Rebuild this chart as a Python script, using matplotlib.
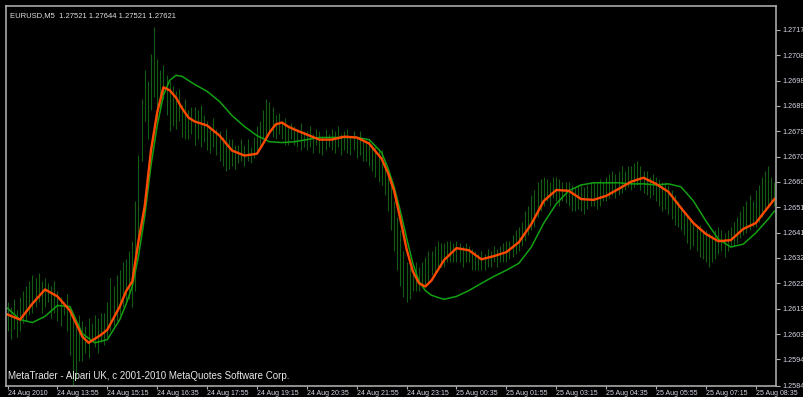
import matplotlib.pyplot as plt
import numpy as np

# M5 bars, EURUSD 24 Aug 2010 12:35 .. 25 Aug 09:05
bar_high = [
    1.2615, 1.2613, 1.2616, 1.2612, 1.2617, 1.2619, 1.2621, 1.2623,
    1.2625, 1.2624, 1.2626, 1.2623, 1.2624, 1.2622, 1.2621, 1.2623,
    1.2619, 1.2617, 1.2615, 1.2618, 1.2613, 1.2611, 1.2608, 1.2610,
    1.2608, 1.2606, 1.2609, 1.2607, 1.2610, 1.2609, 1.2611, 1.2611,
    1.2615, 1.2624, 1.2621, 1.2625, 1.2627, 1.2630, 1.2631, 1.2634,
    1.2638, 1.2653, 1.2670, 1.2691, 1.2702, 1.2698, 1.2708, 1.2718,
    1.2706, 1.2702, 1.2704, 1.2700, 1.2698, 1.2696, 1.2694, 1.2695,
    1.2689, 1.2691, 1.2687, 1.2688, 1.2688, 1.2687, 1.2689, 1.2685,
    1.2683, 1.2681, 1.2684, 1.2680, 1.2679, 1.2677, 1.2680, 1.2676,
    1.2676, 1.2674, 1.2674, 1.2676, 1.2674, 1.2676, 1.2673, 1.2677,
    1.2681, 1.2683, 1.2687, 1.2691, 1.2690, 1.2688, 1.2685, 1.2686,
    1.2683, 1.2684, 1.2681, 1.2682, 1.2681, 1.2680, 1.2682, 1.2679,
    1.2679, 1.2681, 1.2678, 1.2680, 1.2679, 1.2677, 1.2680, 1.2678,
    1.2680, 1.2679, 1.2681, 1.2678, 1.2679, 1.2680, 1.2677, 1.2679,
    1.2677, 1.2679, 1.2676, 1.2676, 1.2676, 1.2674, 1.2674, 1.2672,
    1.2672, 1.2668, 1.2664, 1.2660, 1.2653, 1.2647, 1.2642, 1.2634,
    1.2630, 1.2628, 1.2627, 1.2630, 1.2628, 1.2630, 1.2632, 1.2634,
    1.2634, 1.2636, 1.2638, 1.2637, 1.2637, 1.2638, 1.2638, 1.2637,
    1.2638, 1.2637, 1.2636, 1.2637, 1.2636, 1.2635, 1.2634, 1.2633,
    1.2634, 1.2633, 1.2635, 1.2634, 1.2636, 1.2635, 1.2636, 1.2637,
    1.2638, 1.2638, 1.2640, 1.2642, 1.2643, 1.2645, 1.2649, 1.2651,
    1.2655, 1.2657, 1.2660, 1.2661, 1.2662, 1.2661, 1.2660, 1.2662,
    1.2662, 1.2661, 1.2660, 1.2660, 1.2660, 1.2659, 1.2658, 1.2659,
    1.2659, 1.2658, 1.2659, 1.2660, 1.2660, 1.2660, 1.2661, 1.2660,
    1.2662, 1.2663, 1.2664, 1.2663, 1.2664, 1.2666, 1.2664, 1.2666,
    1.2666, 1.2667, 1.2668, 1.2666, 1.2664, 1.2664, 1.2662, 1.2663,
    1.2662, 1.2661, 1.2660, 1.2660, 1.2659, 1.2657, 1.2655, 1.2653,
    1.2651, 1.2649, 1.2648, 1.2646, 1.2645, 1.2643, 1.2644, 1.2642,
    1.2642, 1.2641, 1.2640, 1.2642, 1.2643, 1.2642, 1.2641, 1.2642,
    1.2643, 1.2645, 1.2647, 1.2649, 1.2651, 1.2653, 1.2655, 1.2653,
    1.2657, 1.2659, 1.2662, 1.2664, 1.2666, 1.2662, 1.2660,
]
bar_low = [
    1.2604, 1.2601, 1.2605, 1.2602, 1.2604, 1.2607, 1.2608, 1.2610,
    1.2611, 1.2613, 1.2615, 1.2611, 1.2613, 1.2615, 1.2609, 1.2611,
    1.2608, 1.2606, 1.2610, 1.2604, 1.2595, 1.2583, 1.2586, 1.2593,
    1.2593, 1.2596, 1.2594, 1.2600, 1.2598, 1.2596, 1.2600, 1.2599,
    1.2602, 1.2604, 1.2606, 1.2608, 1.2610, 1.2613, 1.2615, 1.2616,
    1.2613, 1.2619, 1.2638, 1.2668, 1.2683, 1.2676, 1.2687, 1.2692,
    1.2683, 1.2687, 1.2691, 1.2685, 1.2679, 1.2681, 1.2680, 1.2683,
    1.2677, 1.2676, 1.2676, 1.2678, 1.2674, 1.2676, 1.2673, 1.2675,
    1.2672, 1.2671, 1.2673, 1.2670, 1.2668, 1.2666, 1.2664, 1.2665,
    1.2666, 1.2665, 1.2667, 1.2668, 1.2666, 1.2668, 1.2667, 1.2669,
    1.2672, 1.2674, 1.2676, 1.2677, 1.2679, 1.2677, 1.2676, 1.2678,
    1.2676, 1.2674, 1.2674, 1.2676, 1.2674, 1.2673, 1.2672, 1.2673,
    1.2672, 1.2673, 1.2671, 1.2674, 1.2671, 1.2670, 1.2672, 1.2673,
    1.2672, 1.2671, 1.2673, 1.2670, 1.2672, 1.2671, 1.2670, 1.2672,
    1.2669, 1.2670, 1.2668, 1.2668, 1.2666, 1.2664, 1.2662, 1.2660,
    1.2659, 1.2655, 1.2649, 1.2642, 1.2634, 1.2627, 1.2621, 1.2617,
    1.2615, 1.2616, 1.2619, 1.2619, 1.2619, 1.2621, 1.2621, 1.2623,
    1.2625, 1.2626, 1.2627, 1.2628, 1.2628, 1.2630, 1.2630, 1.2630,
    1.2630, 1.2630, 1.2628, 1.2630, 1.2630, 1.2627, 1.2627, 1.2627,
    1.2627, 1.2627, 1.2628, 1.2628, 1.2630, 1.2628, 1.2630, 1.2630,
    1.2630, 1.2631, 1.2632, 1.2633, 1.2634, 1.2636, 1.2638, 1.2640,
    1.2642, 1.2643, 1.2647, 1.2649, 1.2651, 1.2653, 1.2651, 1.2654,
    1.2653, 1.2651, 1.2653, 1.2652, 1.2651, 1.2649, 1.2649, 1.2650,
    1.2649, 1.2648, 1.2650, 1.2651, 1.2651, 1.2650, 1.2651, 1.2653,
    1.2653, 1.2654, 1.2655, 1.2654, 1.2655, 1.2656, 1.2657, 1.2658,
    1.2657, 1.2658, 1.2659, 1.2657, 1.2656, 1.2655, 1.2654, 1.2655,
    1.2653, 1.2651, 1.2649, 1.2650, 1.2648, 1.2646, 1.2644, 1.2643,
    1.2642, 1.2640, 1.2637, 1.2635, 1.2636, 1.2634, 1.2632, 1.2631,
    1.2630, 1.2628, 1.2630, 1.2631, 1.2633, 1.2634, 1.2632, 1.2634,
    1.2636, 1.2636, 1.2637, 1.2639, 1.2640, 1.2641, 1.2642, 1.2643,
    1.2643, 1.2645, 1.2647, 1.2649, 1.2651, 1.2653, 1.2651,
]

# fast moving average (orange), read at these bars
fast_bars = [0, 4, 8, 12, 16, 20, 24, 26, 28, 30, 32, 36, 38, 40, 42, 44,
             46, 48, 50, 52, 54, 56, 58, 60, 64, 68, 72, 76, 80, 82, 84, 86,
             88, 90, 92, 96, 100, 104, 108, 112, 116, 120, 122, 124, 126,
             128, 130, 132, 134, 136, 140, 144, 148, 152, 156, 160, 164, 168,
             172, 176, 180, 184, 188, 192, 196, 200, 204, 208, 212, 216, 220,
             224, 228, 232, 236, 240, 244, 246]
ma_fast = [1.26103, 1.26084, 1.26144, 1.26197, 1.26171, 1.26118, 1.26020,
           1.25997, 1.26012, 1.26027, 1.26046, 1.26133, 1.26190, 1.26227,
           1.26378, 1.26510, 1.26718, 1.26861, 1.26955, 1.26944, 1.26917,
           1.26876, 1.26842, 1.26827, 1.26812, 1.26774, 1.26718, 1.26699,
           1.26706, 1.26744, 1.26785, 1.26816, 1.26823, 1.26808, 1.26797,
           1.26778, 1.26759, 1.26759, 1.26770, 1.26767, 1.26744, 1.26687,
           1.26635, 1.26567, 1.26461, 1.26348, 1.26265, 1.26220, 1.26208,
           1.26231, 1.26307, 1.26352, 1.26344, 1.26310, 1.26322, 1.26337,
           1.26374, 1.26442, 1.26529, 1.26570, 1.26567, 1.26536, 1.26533,
           1.26548, 1.26574, 1.26601, 1.26616, 1.26593, 1.26563, 1.26503,
           1.26446, 1.26405, 1.26378, 1.26382, 1.26424, 1.26446, 1.26506,
           1.26536]

# slow moving average (green)
slow_bars = [0, 4, 8, 12, 16, 20, 24, 28, 32, 36, 38, 40, 42, 44, 46, 48,
             50, 52, 54, 56, 60, 64, 68, 72, 76, 80, 84, 88, 92, 96, 100, 104,
             108, 112, 116, 120, 122, 124, 126, 128, 130, 132, 134, 136, 140,
             144, 148, 152, 156, 160, 164, 168, 172, 176, 180, 184, 188, 192,
             196, 200, 204, 208, 212, 216, 220, 224, 228, 232, 236, 240, 244,
             246]
ma_slow = [1.26126, 1.26084, 1.26073, 1.26096, 1.26137, 1.26133, 1.26031,
           1.25997, 1.26009, 1.26084, 1.26141, 1.26208, 1.26322, 1.26472,
           1.26661, 1.26812, 1.26925, 1.26981, 1.27000, 1.26996, 1.26966,
           1.26940, 1.26902, 1.26849, 1.26808, 1.26774, 1.26751, 1.26748,
           1.26751, 1.26759, 1.26767, 1.26767, 1.26767, 1.26767, 1.26759,
           1.26710, 1.26653, 1.26582, 1.26491, 1.26390, 1.26295, 1.26227,
           1.26193, 1.26175, 1.26160, 1.26171, 1.26193, 1.26220, 1.26246,
           1.26269, 1.26295, 1.26356, 1.26446, 1.26518, 1.26567, 1.26589,
           1.26597, 1.26597, 1.26597, 1.26593, 1.26593, 1.26589, 1.26593,
           1.26582, 1.26529, 1.26454, 1.26386, 1.26356, 1.26367, 1.26409,
           1.26461, 1.26491]

price_ticks = [1.27170, 1.27075, 1.26980, 1.26885, 1.26790, 1.26695, 1.26600,
               1.26505, 1.26410, 1.26315, 1.26220, 1.26125, 1.26030, 1.25935,
               1.25835]
price_labels = ["1.27175", "1.27080", "1.26985", "1.26895", "1.26795",
                "1.26705", "1.26605", "1.26515", "1.26415", "1.26325",
                "1.26225", "1.26130", "1.26035", "1.25940", "1.25840"]
time_ticks = [0, 16, 32, 48, 64, 80, 96, 112, 128, 144, 160, 176, 192, 208,
              224, 240]
time_labels = ["24 Aug 2010", "24 Aug 13:55", "24 Aug 15:15", "24 Aug 16:35",
               "24 Aug 17:55", "24 Aug 19:15", "24 Aug 20:35", "24 Aug 21:55",
               "24 Aug 23:15", "25 Aug 00:35", "25 Aug 01:55", "25 Aug 03:15",
               "25 Aug 04:35", "25 Aug 05:55", "25 Aug 07:15", "25 Aug 08:35"]

fig = plt.figure(figsize=(8.04, 3.97), dpi=100, facecolor="black")
ax = fig.add_axes([6 / 804, 1 - 386 / 397, 770 / 804, 380 / 397])
ax.set_facecolor("black")

idx = np.arange(len(bar_high))
ax.vlines(idx, bar_low, bar_high, color="#145c14", linewidth=0.8)
ax.plot(slow_bars, ma_slow, color="#12a012", linewidth=1.1,
        solid_joinstyle="round")
ax.plot(fast_bars, ma_fast, color="#ff4a00", linewidth=1.7,
        solid_joinstyle="round")

ax.set_xlim(-0.5, len(bar_high) - 0.5)
ax.set_ylim(1.25835, 1.27260)

ax.yaxis.tick_right()
ax.set_yticks(price_ticks)
ax.set_yticklabels(price_labels)
ax.set_xticks(time_ticks)
ax.set_xticklabels(time_labels)
for lab in ax.get_xticklabels():
    lab.set_horizontalalignment("left")
ax.tick_params(axis="y", colors="#b0b0b0", labelcolor="#d8d8e8", length=3,
               width=0.8, pad=1.5, labelsize=5.2)
ax.tick_params(axis="x", colors="#b0b0b0", labelcolor="#d8d8e8", length=2.5,
               width=0.8, pad=0.2, labelsize=5.0)
for lab in ax.get_xticklabels() + ax.get_yticklabels():
    lab.set_family("Liberation Sans")

for s in ax.spines.values():
    s.set_color("#a8a8a8")
    s.set_linewidth(1.2)

ax.text(0.005, 0.985, "EURUSD,M5  1.27521 1.27644 1.27521 1.27621",
        transform=ax.transAxes, ha="left", va="top", color="#e0e0e0",
        fontsize=5.5, family="Liberation Sans")
ax.text(0.003, 0.012, "MetaTrader - Alpari UK, c 2001-2010 MetaQuotes Software Corp.",
        transform=ax.transAxes, ha="left", va="bottom", color="#e8e8e8",
        fontsize=7, family="Liberation Sans")

fig.savefig("out.png", dpi=100, facecolor="black")
